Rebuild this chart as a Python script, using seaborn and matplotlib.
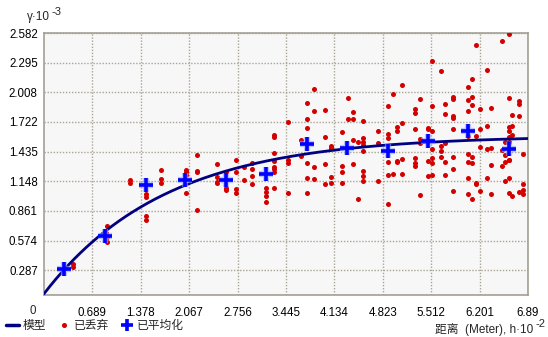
import numpy as np
import pandas as pd
import matplotlib
matplotlib.use("Agg")
import matplotlib.pyplot as plt
import seaborn as sns
from matplotlib.lines import Line2D

# ---------------- data ----------------
discarded_h = [
    0.411, 0.411,
    0.898, 0.884, 0.891, 0.898,
    1.219, 1.219,
    1.457, 1.457, 1.457, 1.457,
    1.671, 1.671, 1.671,
    2.027, 2.027, 2.027, 2.027,
    2.184, 2.184, 2.184, 2.184,
    2.469, 2.469, 2.469, 2.469,
    2.597, 2.597, 2.597,
    2.730, 2.730, 2.730, 2.730,
    2.844, 2.844,
    2.958, 2.958, 2.958, 2.958,
    3.167, 3.167, 3.167, 3.167,
    3.272, 3.272, 3.272, 3.272, 3.272, 3.272, 3.272, 3.272,
    3.471, 3.471, 3.471, 3.471,
    3.656, 3.656,
    3.738, 3.738, 3.738, 3.738, 3.738, 3.738,
    3.840, 3.840, 3.840, 3.840,
    3.998, 3.998, 3.998, 3.998,
    4.081, 4.081, 4.081, 4.081,
    4.241, 4.241, 4.241, 4.241,
    4.322, 4.322,
    4.393, 4.393, 4.393, 4.393,
    4.465, 4.465,
    4.536, 4.536, 4.536, 4.536, 4.536, 4.536, 4.536, 4.536,
    4.750, 4.750, 4.750,
    4.892, 4.892, 4.892, 4.892, 4.892, 4.892,
    4.964, 4.964,
    5.025, 5.025, 5.025, 5.025,
    5.092, 5.092, 5.092, 5.092,
    5.281, 5.281, 5.281, 5.281, 5.281, 5.281,
    5.353, 5.353, 5.353, 5.353,
    5.463, 5.463, 5.463, 5.463,
    5.520, 5.520, 5.520, 5.520, 5.520, 5.520, 5.520,
    5.652, 5.652, 5.652, 5.652,
    5.709, 5.709, 5.709, 5.709, 5.709,
    5.819, 5.819, 5.819, 5.819, 5.819, 5.819, 5.819, 5.819,
    6.033, 6.033, 6.033, 6.033, 6.033, 6.033, 6.033,
    6.041,
    6.090, 6.090, 6.090, 6.090, 6.090, 6.090,
    6.151, 6.151, 6.151, 6.151,
    6.208, 6.208, 6.208, 6.208,
    6.304, 6.304, 6.304, 6.304,
    6.361, 6.361, 6.361, 6.361,
    6.517, 6.517, 6.517,
    6.560, 6.560, 6.560, 6.560,
    6.617, 6.617, 6.617, 6.617, 6.617, 6.617, 6.617, 6.617, 6.617, 6.617,
    6.660, 6.660, 6.660, 6.660,
    6.760, 6.760, 6.760, 6.760,
    6.817, 6.817, 6.817, 6.817,
]
discarded_g = [
    0.348, 0.322,
    0.719, 0.651, 0.607, 0.561,
    1.156, 1.129,
    1.021, 0.992, 0.813, 0.774,
    1.258, 1.171, 1.135,
    1.258, 1.234, 1.207, 1.038,
    1.406, 1.248, 1.234, 0.874,
    1.311, 1.193, 1.145, 1.129,
    1.241, 1.079, 1.064,
    1.355, 1.241, 1.074, 1.030,
    1.290, 1.161,
    1.329, 1.270, 1.202, 1.125,
    1.081, 1.048, 1.006, 0.951,
    1.597, 1.580, 1.425, 1.348, 1.290, 1.266, 1.240, 1.086,
    1.722, 1.350, 1.321, 1.037,
    1.550, 1.395,
    1.909, 1.751, 1.667, 1.329, 1.183, 1.037,
    2.042, 1.832, 1.290, 1.171,
    1.838, 1.577, 1.311, 1.125,
    1.490, 1.473, 1.193, 1.135,
    1.628, 1.299, 1.241, 1.135,
    1.955, 1.751,
    1.822, 1.751, 1.548, 1.319,
    1.529, 0.977,
    1.735, 1.568, 1.529, 1.495, 1.442, 1.251, 1.203, 1.154,
    1.638, 1.522, 1.154,
    1.880, 1.601, 1.570, 1.338, 1.212, 0.932,
    1.996, 1.222,
    1.676, 1.637, 1.345, 1.330,
    2.083, 1.715, 1.364, 1.219,
    1.851, 1.811, 1.657, 1.371, 1.321, 1.299,
    1.945, 1.558, 1.516, 1.019,
    1.667, 1.650, 1.348, 1.203,
    2.313, 1.880, 1.638, 1.464, 1.377, 1.329, 1.210,
    2.219, 1.493, 1.445, 1.387,
    1.897, 1.800, 1.522, 1.338, 1.212,
    1.967, 1.945, 1.780, 1.758, 1.650, 1.387, 1.268, 1.058,
    2.064, 1.935, 1.832, 1.410, 1.338, 1.183, 1.029,
    1.587,
    2.138, 1.967, 1.890, 1.387, 1.329, 0.980,
    2.467, 1.587, 1.135, 1.120,
    1.848, 1.657, 1.483, 1.058,
    2.225, 1.684, 1.458, 1.183,
    1.861, 1.468, 1.309, 1.029,
    2.509, 1.451, 1.299,
    1.529, 1.403, 1.338, 1.154,
    2.574, 1.957, 1.677, 1.638, 1.580, 1.529, 1.358, 1.355, 1.183, 1.038,
    1.790, 1.684, 1.594, 1.009,
    1.928, 1.897, 1.780, 1.048,
    1.416, 1.125, 1.067, 1.029,
]

averaged_h = [0.288, 0.872, 1.447, 2.013, 2.597, 3.167, 3.738, 4.319, 4.892, 5.463, 6.041, 6.617]
averaged_g = [0.303, 0.619, 1.108, 1.164, 1.161, 1.214, 1.507, 1.471, 1.442, 1.541, 1.635, 1.458]

# exponential model parameters
NUGGET = 0.06
PARTIAL_SILL = 1.53
MODEL_RANGE = 5.2

x_ticks = [0.689, 1.378, 2.067, 2.756, 3.445, 4.134, 4.823, 5.512, 6.201, 6.89]
x_tick_labels = ["0.689", "1.378", "2.067", "2.756", "3.445", "4.134", "4.823", "5.512", "6.201", "6.89"]
y_ticks = [0.287, 0.574, 0.861, 1.148, 1.435, 1.722, 2.008, 2.295, 2.582]
y_tick_labels = ["0.287", "0.574", "0.861", "1.148", "1.435", "1.722", "2.008", "2.295", "2.582"]

legend_labels = ["模型", "已丢弃", "已平均化"]
x_label = "距离  (Meter), h·10"
x_label_exp = "-2"
y_label = "γ·10"
y_label_exp = "-3"

# ---------------- styling ----------------
sns.set_theme(style="white")
plt.rcParams['font.family'] = ['Liberation Sans', 'Noto Sans CJK SC', 'DejaVu Sans']
plt.rcParams['axes.unicode_minus'] = False

W, H = 548, 337
fig = plt.figure(figsize=(W / 100, H / 100), dpi=100)
fig.patch.set_facecolor("white")
ax = fig.add_axes([44 / W, 1 - 295 / H, 484 / W, 262 / H])
ax.set_facecolor("#f7f7f7")

grid_col = "#aaa596"
for s in ax.spines.values():
    s.set_color("#a39f92")
    s.set_linewidth(1.2)

ax.set_xlim(0, 6.89)
ax.set_ylim(0.048, 2.582)
ax.set_xticks(x_ticks)
ax.set_xticklabels(x_tick_labels)
ax.set_yticks(y_ticks)
ax.set_yticklabels(y_tick_labels)
ax.tick_params(axis="both", length=0, labelsize=8.3, colors="black")
ax.tick_params(axis="x", pad=8.5)
ax.tick_params(axis="y", pad=4.5)
ax.grid(True, color=grid_col, linestyle=(0, (1, 1.2)), linewidth=1.0)
ax.set_axisbelow(True)

# discarded points
df_d = pd.DataFrame({"h": discarded_h, "g": discarded_g})
sns.scatterplot(data=df_d, x="h", y="g", ax=ax, color="#d40000", s=13,
                marker="o", linewidth=0, zorder=3, legend=False)

# model line
hs = np.linspace(0, 6.89, 400)
df_m = pd.DataFrame({"h": hs, "g": NUGGET + PARTIAL_SILL * (1 - np.exp(-3 * hs / MODEL_RANGE))})
sns.lineplot(data=df_m, x="h", y="g", ax=ax, color="#000080", linewidth=2.0, zorder=4, legend=False)

# averaged points (with soft halo)
df_a = pd.DataFrame({"h": averaged_h, "g": averaged_g})
sns.scatterplot(data=df_a, x="h", y="g", ax=ax, marker="+", s=110, color="#8fa8ff",
                linewidth=4.5, alpha=0.6, zorder=5, legend=False)
sns.scatterplot(data=df_a, x="h", y="g", ax=ax, marker="+", s=95, color="#0000ff",
                linewidth=2.6, zorder=6, legend=False)

ax.set_xlabel("")
ax.set_ylabel("")

# "0" label at the corner
ax.text(-0.16, -0.062, "0", transform=ax.get_xaxis_transform(), ha="center", va="center",
        fontsize=8.3, clip_on=False)

# axis titles (plain text + separate superscript so CJK fallback works)
fig.text(27 / W, 1 - 17 / H, y_label, ha="left", va="center", fontsize=8.5)
fig.text(52 / W, 1 - 12 / H, y_label_exp, ha="left", va="center", fontsize=8)
fig.text(533 / W, 1 - 329 / H, x_label, ha="right", va="center", fontsize=8.5)
fig.text(535 / W, 1 - 324 / H, x_label_exp, ha="left", va="center", fontsize=8)

# legend
handles = [
    Line2D([], [], color="#000080", linewidth=2.5),
    Line2D([], [], color="#d40000", marker="o", markersize=2.6, linestyle="none"),
    Line2D([], [], color="#0000ff", marker="+", markersize=9, markeredgewidth=2.6, linestyle="none"),
]
fig.legend(handles, legend_labels, loc="center left", bbox_to_anchor=(6 / W, 1 - 326 / H),
           ncol=3, frameon=False, fontsize=8.5, handlelength=1.1, handletextpad=0.35,
           columnspacing=0.9, borderpad=0, borderaxespad=0)

fig.savefig("out.png", dpi=100, facecolor="white")
